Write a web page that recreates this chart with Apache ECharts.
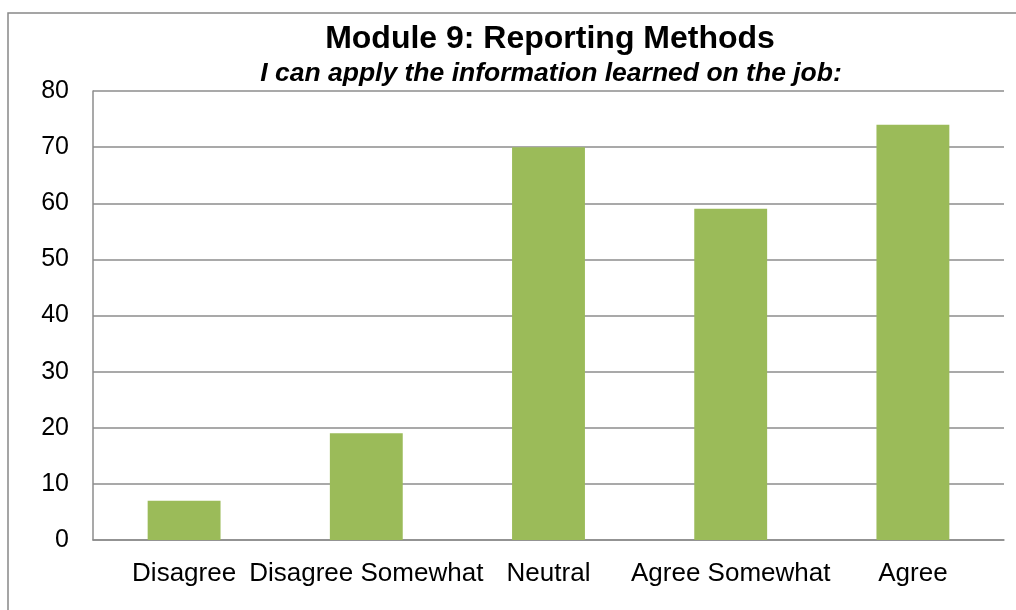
<!DOCTYPE html>
<html>
<head>
<meta charset="utf-8">
<script src="https://cdn.jsdelivr.net/npm/echarts@6/dist/echarts.min.js"></script>
<style>
html,body{margin:0;padding:0;background:#fff;}
#chart{width:1016px;height:610px;}
</style>
</head>
<body>
<div id="chart"></div>
<script>
const categories = ['Disagree', 'Disagree Somewhat', 'Neutral', 'Agree Somewhat', 'Agree'];
const values = [7, 19, 70, 59, 74];
const yTicks = [0, 10, 20, 30, 40, 50, 60, 70, 80];
const titleText = 'Module 9: Reporting Methods';
const subtitleText = 'I can apply the information learned on the job:';

const FONT = '"Liberation Sans", Arial, sans-serif';
const chart = echarts.init(document.getElementById('chart'), null, {renderer: 'canvas'});
chart.setOption({
  animation: false,
  backgroundColor: '#ffffff',
  graphic: [
    {type: 'rect', shape: {x: 8, y: 13, width: 1100, height: 700}, style: {fill: 'none', stroke: '#888888', lineWidth: 1.5}, z: 0},
    {type: 'text', x: 550, y: 23, style: {text: titleText, font: 'bold 32px ' + FONT, fill: '#000', textAlign: 'center', textVerticalAlign: 'top'}},
    {type: 'text', x: 551, y: 60, style: {text: subtitleText, font: 'italic bold 26.5px ' + FONT, fill: '#000', textAlign: 'center', textVerticalAlign: 'top'}}
  ],
  grid: {left: 93, right: 12, top: 91, bottom: 70, containLabel: false},
  xAxis: {
    type: 'category',
    data: categories,
    axisLine: {show: true, lineStyle: {color: '#8c8c8c', width: 1.5}},
    axisTick: {show: false},
    axisLabel: {color: '#000', fontSize: 26, fontFamily: FONT, margin: 21, interval: 0}
  },
  yAxis: {
    type: 'value',
    min: yTicks[0],
    max: yTicks[yTicks.length - 1],
    interval: yTicks[1] - yTicks[0],
    axisLine: {show: true, lineStyle: {color: '#8c8c8c', width: 1.5}},
    axisTick: {show: false},
    axisLabel: {color: '#000', fontSize: 25, fontFamily: FONT, margin: 24},
    splitLine: {show: true, lineStyle: {color: '#8c8c8c', width: 1.5}}
  },
  series: [{
    type: 'bar',
    data: values,
    barWidth: '40%',
    itemStyle: {color: '#9BBB59'}
  }]
});
</script>
</body>
</html>
